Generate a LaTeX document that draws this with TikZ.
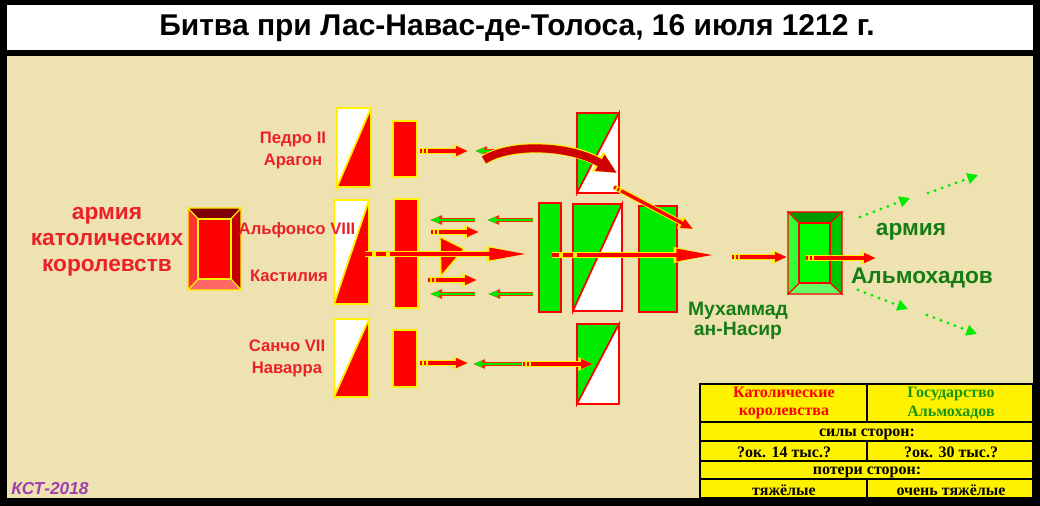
\documentclass[tikz,border=0pt]{standalone}
\usepackage{graphicx}
\usepackage{fontspec}
\setmainfont{Liberation Sans}
\newfontfamily\tabfont{Liberation Serif}
\usetikzlibrary{arrows.meta}

\definecolor{sand}{RGB}{238,226,176}
\definecolor{krot}{RGB}{235,32,42}
\definecolor{dgruen}{RGB}{22,125,22}
\definecolor{tgruen}{RGB}{20,150,20}
\definecolor{hgruen}{RGB}{0,235,0}
\definecolor{kst}{RGB}{160,64,176}

\tikzset{
	pfeilrot/.style={draw=red, line width=2.5pt, -{Triangle[length=9pt,width=7pt]},
		preaction={draw=yellow, solid, line width=4pt, -{Triangle[length=11pt,width=9.5pt]}}},
	pfeilgross/.style={draw=red, line width=3.5pt, -{Triangle[length=29pt,width=8.5pt]},
		preaction={draw=yellow, solid, line width=5pt, -{Triangle[length=31pt,width=10.5pt]}}},
	pfeilgruen/.style={draw=hgruen, line width=1.6pt, -{Triangle[length=7pt,width=4.5pt]},
		preaction={draw=red!85!yellow, line width=2.6pt, -{Triangle[length=9pt,width=6.5pt]}}},
	punktpfeil/.style={draw=hgruen, line width=2.4pt, line cap=round, dash pattern=on 0pt off 5.6pt,
		-{Triangle[length=8pt,width=8pt]}},
	bogen/.style={draw=red!82!black, line width=6pt, -{Triangle[length=15pt,width=13pt]},
		preaction={draw=yellow, solid, line width=7.5pt, -{Triangle[length=17pt,width=16pt]}}},
	schweif/.style={dash pattern=on 1.5pt off 1.5pt on 1.5pt off 1.5pt on 2000pt off 0pt},
	schweifgross/.style={dash pattern=on 5pt off 3.5pt on 7pt off 3.5pt on 2000pt off 0pt},
	randgelb/.style={draw=yellow, line width=1.3pt},
	randrot/.style={draw=red, line width=1.2pt},
	namen/.style={font=\bfseries\fontsize{12.5}{16.5}\selectfont, text=krot, align=center, inner sep=0pt},
	armee/.style={font=\bfseries\fontsize{17}{19.5}\selectfont, align=center, inner sep=0pt},
	tabelle/.style={font=\tabfont\bfseries\fontsize{12}{14}\selectfont, align=center, inner sep=0pt}
}

\begin{document}
\begin{tikzpicture}[x=0.75pt,y=-0.75pt]

	% Rahmen
	\fill[black] (0,0) rectangle (1040,506);
	\useasboundingbox (0,0) rectangle (1040,506);
	\fill[white] (7,5) rectangle (1033,50);
	\fill[sand] (7,56) rectangle (1033,498);

	% Titel
	\node[font=\bfseries\fontsize{22.5}{26}\selectfont] (titel) at (517,28)
		{Битва при Лас-Навас-де-Толоса, 16 июля 1212 г.};

	% Armee links
	\filldraw[randgelb, line width=0.8pt, fill={rgb,255:red,128;green,0;blue,0}] (188,208) -- (241,208) -- (231,219) -- (198,219) -- cycle;
	\filldraw[randgelb, line width=0.8pt, fill={rgb,255:red,192;green,0;blue,0}] (241,208) -- (241,290) -- (231,279) -- (231,219) -- cycle;
	\filldraw[randgelb, line width=0.8pt, fill={rgb,255:red,255;green,102;blue,102}] (241,290) -- (188,290) -- (198,279) -- (231,279) -- cycle;
	\filldraw[randgelb, line width=0.8pt, fill={rgb,255:red,255;green,51;blue,51}] (188,290) -- (188,208) -- (198,219) -- (198,279) -- cycle;
	\filldraw[randgelb, line width=0.8pt, fill=red] (198,219) rectangle (231,279);

	\node[armee, text=krot] (katholiken) at (107,242) {армия\\католических\\королевств};

	% Ritter, Spalte 1
	\filldraw[randgelb, fill=white] (337,108) -- (371,108) -- (337,187) -- cycle;
	\filldraw[randgelb, fill=red] (371,108) -- (371,187) -- (337,187) -- cycle;
	\filldraw[randgelb, fill=white] (334,200) -- (369,200) -- (334,304) -- cycle;
	\filldraw[randgelb, fill=red] (369,200) -- (369,304) -- (334,304) -- cycle;
	\filldraw[randgelb, fill=white] (334,319) -- (369,319) -- (334,397) -- cycle;
	\filldraw[randgelb, fill=red] (369,319) -- (369,397) -- (334,397) -- cycle;

	% Fussvolk, Spalte 2
	\filldraw[randgelb, fill=red] (393,121) rectangle (417,177);
	\filldraw[randgelb, fill=red] (394,199) rectangle (418,308);
	\filldraw[randgelb, fill=red] (393,330) rectangle (417,387);

	% Namen
	\node[namen] (pedro) at (293,150) {Педро II\\Арагон};
	\node[namen] (alfonso) at (297,230) {Альфонсо VIII};
	\node[namen] (kastilien) at (289,276) {Кастилия};
	\node[namen] (sancho) at (287,358) {Санчо VII\\Наварра};

	% Almohaden
	\filldraw[randrot, fill=hgruen] (577,113) -- (619,113) -- (577,193) -- cycle;
	\filldraw[randrot, fill=white] (619,113) -- (619,193) -- (577,193) -- cycle;
	\filldraw[randrot, fill=hgruen] (573,204) -- (622,204) -- (573,311) -- cycle;
	\filldraw[randrot, fill=white] (622,204) -- (622,311) -- (573,311) -- cycle;
	\filldraw[randrot, fill=hgruen] (577,324) -- (619,324) -- (577,404) -- cycle;
	\filldraw[randrot, fill=white] (619,324) -- (619,404) -- (577,404) -- cycle;
	\filldraw[randrot, fill=hgruen] (539,203) rectangle (561,312);
	\filldraw[randrot, fill=hgruen] (639,206) rectangle (677,312);

	% Pfeile oben
	\draw[pfeilrot, schweif] (420,151) -- (468,151);
	\draw[pfeilgruen] (570,151) -- (475,151);
	\draw[bogen] (484,160) .. controls (510,143) and (570,145) .. (617,173);
	\draw[pfeilrot, schweif] (614,187) -- (693,229);

	% Pfeile Mitte
	\draw[pfeilgruen] (475,220) -- (430,220);
	\draw[pfeilgruen] (533,220) -- (487,220);
	\draw[pfeilrot, schweif] (431,232) -- (479,232);
	\filldraw[randgelb, line width=1pt, fill=red] (440,237) -- (464,249) -- (441,276) -- cycle;
	\draw[pfeilgross, schweifgross] (365,254) -- (528,254);
	\draw[pfeilrot, schweif] (428,280) -- (477,280);
	\draw[pfeilgruen] (475,294) -- (430,294);
	\draw[pfeilgruen] (533,294) -- (488,294);
	\draw[pfeilgross, schweifgross] (552,255) -- (715,255);

	% Pfeile unten
	\draw[pfeilrot, schweif] (420,363) -- (468,363);
	\draw[pfeilgruen] (522,364) -- (473,364);
	\draw[pfeilrot, schweif] (523,364) -- (593,364);

	% Armee rechts
	\draw[pfeilrot, schweif] (732,257) -- (787,257);
	\filldraw[randrot, line width=0.8pt, fill={rgb,255:red,0;green,153;blue,0}] (788,212) -- (842,212) -- (830,223) -- (799,223) -- cycle;
	\filldraw[randrot, line width=0.8pt, fill={rgb,255:red,0;green,200;blue,0}] (842,212) -- (842,294) -- (830,283) -- (830,223) -- cycle;
	\filldraw[randrot, line width=0.8pt, fill={rgb,255:red,102;green,255;blue,102}] (842,294) -- (788,294) -- (799,283) -- (830,283) -- cycle;
	\filldraw[randrot, line width=0.8pt, fill={rgb,255:red,51;green,255;blue,51}] (788,294) -- (788,212) -- (799,223) -- (799,283) -- cycle;
	\filldraw[randrot, line width=0.8pt, fill={rgb,255:red,0;green,255;blue,0}] (799,223) rectangle (830,283);
	\draw[pfeilrot, schweif] (806,258) -- (876,258);

	\draw[punktpfeil] (860,217) -- (910,198);
	\draw[punktpfeil] (928,193) -- (978,175);
	\draw[punktpfeil] (858,290) -- (908,309);
	\draw[punktpfeil] (927,315) -- (977,334);

	\node[armee, text=dgruen] (armija) at (911,232) {армия};
	\node[armee, text=dgruen] (almohaden) at (922,278) {Альмохадов};
	\node[armee, text=dgruen, font=\bfseries\fontsize{14.5}{15}\selectfont] (nasir) at (738,321) {Мухаммад\\ан-Насир};

	% Tabelle
	\filldraw[fill=yellow, draw=black, line width=1.5pt] (700,384) rectangle (1033,498);
	\draw[line width=1.5pt] (700,422) -- (1033,422);
	\draw[line width=1.5pt] (700,441) -- (1033,441);
	\draw[line width=1.5pt] (700,461) -- (1033,461);
	\draw[line width=1.5pt] (700,479) -- (1033,479);
	\draw[line width=1.5pt] (867,384) -- (867,422);
	\draw[line width=1.5pt] (867,441) -- (867,461);
	\draw[line width=1.5pt] (867,479) -- (867,498);

	\node[tabelle, text=red] (kopf1) at (784,403) {Католические\\королевства};
	\node[tabelle, text=tgruen] (kopf2) at (951,403) {Государство\\Альмохадов};
	\node[tabelle] (kraefte) at (867,434) {силы сторон:};
	\node[tabelle] (kraefte1) at (784,452) {?ок. 14 тыс.?};
	\node[tabelle] (kraefte2) at (951,452) {?ок. 30 тыс.?};
	\node[tabelle] (verluste) at (867,472) {потери сторон:};
	\node[tabelle] (verluste1) at (784,490) {тяжёлые};
	\node[tabelle] (verluste2) at (951,490) {очень тяжёлые};

	\node[font=\bfseries\itshape\fontsize{13}{15}\selectfont, text=kst] (kst) at (50,489) {КСТ-2018};

\end{tikzpicture}
\end{document}
